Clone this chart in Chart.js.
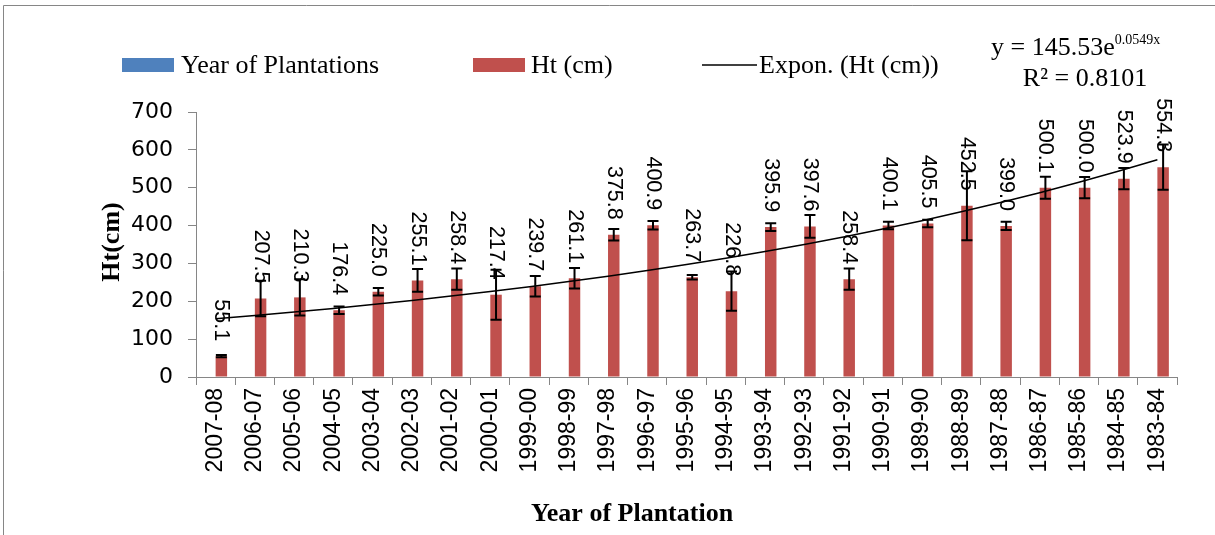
<!DOCTYPE html>
<html><head><meta charset="utf-8">
<script src="https://cdn.jsdelivr.net/npm/chart.js@4.4.0/dist/chart.umd.min.js"></script>
<style>html,body{margin:0;padding:0;background:#fff;}#wrap{width:1215px;height:535px;}</style>
</head><body><div id="wrap"><canvas id="c" width="1215" height="535"></canvas></div>
<script>
const categories = ['2007-08','2006-07','2005-06','2004-05','2003-04','2002-03','2001-02','2000-01','1999-00','1998-99','1997-98','1996-97','1995-96','1994-95','1993-94','1992-93','1991-92','1990-91','1989-90','1988-89','1987-88','1986-87','1985-86','1984-85','1983-84'];
const yearOfPlantations = [null,null,null,null,null,null,null,null,null,null,null,null,null,null,null,null,null,null,null,null,null,null,null,null,null];
const heights = [55.1,207.5,210.3,176.4,225.0,255.1,258.4,217.4,239.7,261.1,375.8,400.9,263.7,226.8,395.9,397.6,258.4,400.1,405.5,452.5,399.0,500.1,500.0,523.9,554.3];
const errors = [3,47,48,10,10,30,28,66,27,27,15,11,6,52,10,30,28,10,10,91,11,29,28,28,60];
const trend = [153.74,162.42,171.58,181.26,191.49,202.29,213.71,225.76,238.50,251.96,266.18,281.20,297.07,313.83,331.54,350.25,370.01,390.89,412.95,436.25,460.87,486.88,514.35,543.37,574.03];
const yTicks = [0,100,200,300,400,500,600,700];

const BLUE = '#4F81BD', RED = '#C0504D', AXIS = '#868686';

const errorBars = {
  id: 'errorBars',
  afterDatasetsDraw(chart) {
    const meta = chart.getDatasetMeta(1);
    const ys = chart.scales.y;
    const ctx = chart.ctx;
    ctx.save();
    ctx.strokeStyle = '#000';
    ctx.lineWidth = 2;
    meta.data.forEach((bar, i) => {
      const x = bar.x;
      const t = ys.getPixelForValue(heights[i] + errors[i]);
      const b = ys.getPixelForValue(heights[i] - errors[i]);
      const hw = 5.5;
      ctx.beginPath();
      ctx.moveTo(x, t); ctx.lineTo(x, b);
      ctx.moveTo(x - hw, t); ctx.lineTo(x + hw, t);
      ctx.moveTo(x - hw, b); ctx.lineTo(x + hw, b);
      ctx.stroke();
    });
    ctx.fillStyle = '#000';
    ctx.font = '21.5px "Liberation Sans", Arial, sans-serif';
    ctx.textAlign = 'right';
    ctx.textBaseline = 'middle';
    meta.data.forEach((bar, i) => {
      ctx.save();
      ctx.translate(bar.x, bar.y - 15);
      ctx.rotate(Math.PI / 2);
      ctx.fillText(heights[i].toFixed(1), 0, 0);
      ctx.restore();
    });
    ctx.restore();
  }
};

const decor = {
  id: 'decor',
  afterDraw(chart) {
    const ctx = chart.ctx;
    ctx.save();
    ctx.strokeStyle = AXIS; ctx.lineWidth = 1;
    ctx.beginPath(); ctx.moveTo(3.5, 535); ctx.lineTo(3.5, 5.5); ctx.lineTo(1215, 5.5); ctx.stroke();
    const ds = chart.data.datasets;
    ctx.fillStyle = ds[0].backgroundColor; ctx.fillRect(122, 58, 52, 14);
    ctx.fillStyle = ds[1].backgroundColor; ctx.fillRect(473, 58, 52, 14);
    ctx.strokeStyle = '#000'; ctx.lineWidth = 1.5;
    ctx.beginPath(); ctx.moveTo(702, 65); ctx.lineTo(757, 65); ctx.stroke();
    ctx.fillStyle = '#000';
    ctx.textBaseline = 'alphabetic'; ctx.textAlign = 'left';
    ctx.font = '26px "Liberation Serif", "Times New Roman", serif';
    ctx.fillText(ds[0].label, 181, 73);
    ctx.fillText(ds[1].label, 531, 73);
    ctx.fillText(ds[2].label, 759, 73);
    const main = 'y = 145.53e', sup = '0.0549x';
    ctx.font = '26px "Liberation Serif", serif';
    const wm = ctx.measureText(main).width;
    const x0 = 991;
    ctx.fillText(main, x0, 55);
    ctx.font = '14px "Liberation Serif", serif';
    ctx.fillText(sup, x0 + wm, 44);
    ctx.font = '26px "Liberation Serif", serif';
    ctx.textAlign = 'center';
    ctx.fillText('R\u00B2 = 0.8101', 1085, 86);
    ctx.font = 'bold 26px "Liberation Serif", serif';
    ctx.fillText('Year of Plantation', 632, 521);
    ctx.save();
    ctx.translate(119, 242);
    ctx.rotate(-Math.PI / 2);
    ctx.font = 'bold 26px "Liberation Serif", serif';
    ctx.fillText('Ht(cm)', 0, 0);
    ctx.restore();
    ctx.restore();
  }
};

new Chart(document.getElementById('c'), {
  type: 'bar',
  data: {
    labels: categories,
    datasets: [
      { label: 'Year of Plantations', data: yearOfPlantations, backgroundColor: BLUE, categoryPercentage: 0.585, barPercentage: 1, order: 2 },
      { label: 'Ht (cm)', data: heights, backgroundColor: RED, categoryPercentage: 0.585, barPercentage: 1, order: 2 },
      { type: 'line', label: 'Expon. (Ht (cm))', data: trend, borderColor: '#000', borderWidth: 1.5, pointRadius: 0, fill: false, tension: 0, order: 0 }
    ]
  },
  options: {
    responsive: false,
    animation: false,
    layout: { padding: { left: 0, right: 38, top: 112, bottom: 0 } },
    plugins: { legend: { display: false }, tooltip: { enabled: false } },
    scales: {
      x: {
        grid: { offset: true, drawOnChartArea: false, tickLength: 8, color: AXIS },
        border: { color: AXIS },
        ticks: { autoSkip: false, minRotation: 90, maxRotation: 90, padding: 3, color: '#000', font: { family: '"Liberation Sans", Arial, sans-serif', size: 23 } },
        afterFit(s) { s.height = 158; }
      },
      y: {
        min: 0, max: 700,
        afterBuildTicks(s) { s.ticks = yTicks.map(v => ({ value: v })); },
        grid: { drawOnChartArea: false, tickLength: 8, color: AXIS },
        border: { color: AXIS },
        ticks: { padding: 15, color: '#000', font: { family: '"DejaVu Sans", sans-serif', size: 22 } },
        afterFit(s) { s.width = 196; }
      }
    }
  },
  plugins: [errorBars, decor]
});
</script>
</body></html>
